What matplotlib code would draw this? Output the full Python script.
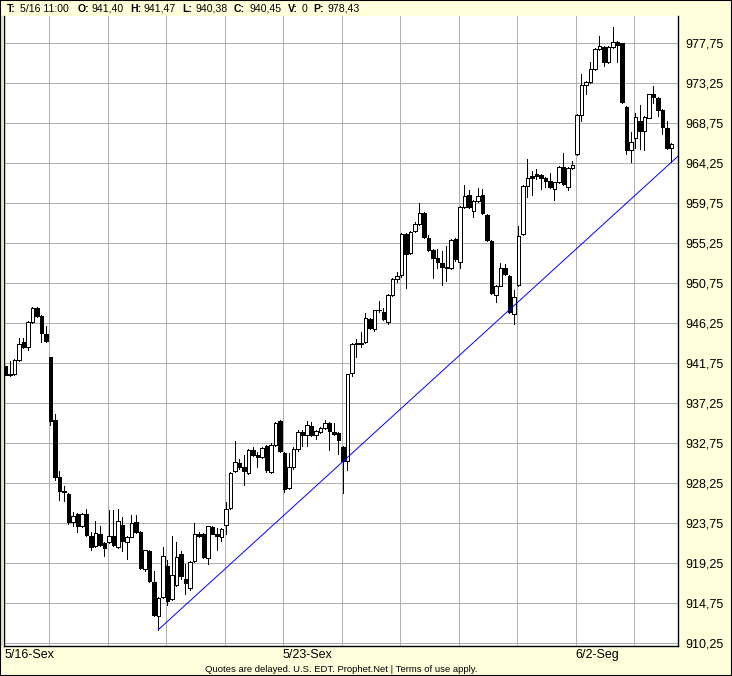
import matplotlib
matplotlib.use("Agg")
import matplotlib.pyplot as plt
from matplotlib.patches import Rectangle
from matplotlib.transforms import blended_transform_factory
import numpy as np

# ---------------- data ----------------
opens = [
    941.40, 940.45, 940.50, 942.10, 944.10, 943.60, 946.40, 948.00, 947.10, 945.00,
    942.50, 935.40, 929.00, 927.40, 927.10, 923.86, 924.80, 923.40, 924.85, 922.30,
    921.20, 922.60, 921.50, 921.60, 922.30, 921.05, 923.60, 921.65, 922.25, 923.90,
    922.80, 918.60, 920.60, 917.10, 913.35, 915.45, 919.00, 915.20, 916.80, 920.35,
    917.50, 916.50, 919.50, 922.60, 922.60, 919.80, 923.30, 922.50, 922.20, 923.60,
    925.50, 929.60, 930.55, 930.05, 929.40, 932.00, 931.40, 931.25, 932.40, 929.50,
    932.55, 935.25, 931.70, 927.70, 930.05, 932.10, 934.00, 933.70, 934.70, 933.70,
    934.00, 934.50, 935.00, 934.00, 933.90, 932.30, 930.80, 940.70, 944.00, 943.90,
    944.10, 946.70, 945.60, 947.70, 947.55, 946.40, 949.40, 951.20, 951.70, 956.30,
    954.20, 956.60, 957.40, 958.70, 955.80, 954.50, 953.60, 953.00, 952.60, 952.50,
    955.70, 953.10, 959.30, 960.70, 958.90, 960.00, 960.70, 958.40, 955.50, 949.40,
    950.50, 952.50, 951.60, 947.30, 950.60, 956.30, 961.70, 962.80, 963.00, 962.90,
    962.60, 962.30, 961.40, 962.10, 963.80, 961.60, 963.70, 965.25, 969.70, 973.10,
    973.40, 974.90, 977.10, 977.30, 975.60, 977.30, 977.95, 977.75, 970.60, 965.70,
    967.10, 969.05, 967.90, 969.40, 972.00, 971.60, 970.30, 968.20, 966.00,
]
highs = [
    941.47, 942.00, 942.20, 944.60, 944.60, 946.50, 948.10, 948.10, 947.20, 945.90,
    942.50, 936.00, 929.60, 928.00, 927.20, 925.00, 924.90, 924.90, 925.40, 922.80,
    924.00, 923.50, 921.60, 925.30, 925.30, 925.40, 924.50, 922.30, 924.70, 924.70,
    922.90, 920.80, 920.70, 918.40, 915.50, 921.10, 919.60, 922.30, 921.60, 920.60,
    919.20, 919.50, 923.80, 922.80, 922.70, 923.50, 923.50, 923.20, 923.20, 926.20,
    929.50, 933.00, 931.00, 931.40, 932.10, 932.30, 931.80, 932.30, 932.60, 932.80,
    935.20, 935.40, 931.80, 931.70, 932.30, 934.30, 934.20, 935.30, 935.10, 934.20,
    934.60, 935.40, 935.10, 935.00, 934.00, 932.40, 940.60, 944.00, 944.50, 945.30,
    947.40, 946.80, 947.80, 948.80, 948.00, 949.50, 951.30, 952.00, 956.40, 956.40,
    956.60, 957.60, 959.75, 958.80, 956.20, 954.60, 954.60, 954.40, 954.90, 955.70,
    955.80, 959.40, 961.80, 961.30, 960.10, 961.50, 961.40, 958.50, 955.60, 950.60,
    953.00, 952.90, 951.70, 950.00, 957.20, 961.80, 964.75, 963.40, 963.60, 963.00,
    962.70, 963.20, 962.20, 963.90, 965.40, 963.80, 964.50, 969.80, 974.30, 973.50,
    975.60, 977.20, 978.60, 977.40, 977.40, 979.60, 978.00, 977.80, 970.70, 967.80,
    969.90, 970.80, 969.60, 972.10, 972.90, 971.70, 970.40, 969.00, 966.50,
]
lows = [
    940.38, 940.35, 940.40, 942.00, 943.50, 943.30, 946.30, 947.00, 944.20, 944.20,
    934.80, 928.60, 926.40, 926.30, 923.70, 923.40, 922.80, 923.30, 922.35, 920.80,
    921.10, 921.20, 920.10, 921.50, 921.20, 921.00, 920.60, 919.70, 922.20, 922.70,
    918.60, 918.40, 917.20, 913.30, 911.80, 915.30, 914.60, 915.10, 916.70, 917.50,
    915.85, 916.20, 919.40, 922.20, 919.90, 919.20, 922.50, 920.80, 921.80, 922.50,
    925.40, 929.50, 929.90, 928.10, 929.30, 931.30, 930.10, 931.10, 929.50, 929.40,
    932.40, 931.80, 927.30, 927.60, 929.90, 931.90, 932.40, 932.40, 933.60, 933.20,
    933.90, 934.40, 932.00, 933.70, 931.60, 927.20, 929.80, 940.30, 942.50, 943.60,
    944.00, 945.60, 945.40, 947.50, 946.60, 946.20, 949.30, 950.90, 951.50, 950.20,
    954.00, 956.50, 957.30, 955.90, 954.40, 951.40, 952.50, 950.60, 951.00, 952.40,
    953.30, 952.50, 959.20, 959.20, 958.20, 959.90, 958.60, 955.50, 949.50, 948.70,
    950.40, 951.70, 947.40, 946.20, 950.50, 956.20, 960.50, 960.70, 962.50, 961.40,
    961.60, 961.50, 960.10, 962.00, 961.80, 961.20, 963.60, 965.20, 969.00, 972.00,
    973.30, 974.80, 977.00, 975.20, 975.50, 977.20, 975.60, 971.00, 965.30, 964.40,
    966.00, 965.90, 965.70, 969.30, 971.00, 969.60, 967.50, 965.90, 964.40,
]
closes = [
    940.45, 940.60, 942.10, 943.90, 943.60, 946.40, 948.00, 947.10, 945.20, 944.30,
    935.30, 929.00, 927.40, 927.30, 923.85, 924.60, 923.50, 924.80, 922.45, 921.05,
    922.70, 921.35, 921.00, 922.35, 921.35, 924.05, 921.80, 922.20, 923.75, 922.80,
    918.70, 920.70, 917.30, 913.40, 915.40, 920.06, 915.00, 917.96, 920.00, 917.77,
    917.00, 919.40, 922.50, 922.35, 920.00, 923.40, 922.60, 922.30, 923.10, 925.40,
    929.40, 930.60, 930.10, 929.60, 932.00, 931.40, 931.20, 932.20, 929.70, 932.55,
    935.05, 931.90, 927.60, 930.05, 932.10, 934.00, 933.70, 934.80, 933.70, 934.10,
    934.50, 935.00, 934.10, 933.80, 933.10, 930.80, 940.50, 943.90, 943.90, 944.00,
    946.80, 945.70, 947.70, 947.80, 946.70, 949.40, 951.20, 951.60, 956.30, 954.10,
    956.50, 957.40, 958.70, 956.00, 954.50, 953.60, 953.15, 952.60, 952.50, 955.60,
    953.50, 959.30, 960.60, 959.30, 960.00, 960.60, 958.70, 955.60, 949.70, 950.50,
    952.50, 951.80, 947.50, 949.20, 956.10, 961.70, 962.60, 962.60, 962.80, 962.60,
    962.30, 961.60, 962.10, 963.80, 961.90, 963.70, 964.10, 969.70, 973.10, 973.40,
    974.90, 977.10, 977.40, 975.70, 977.30, 977.95, 977.55, 971.10, 965.70, 966.70,
    969.50, 967.90, 969.50, 972.00, 971.70, 970.30, 968.30, 966.00, 966.40,
]

price_ticks = [910.25, 914.75, 919.25, 923.75, 928.25, 932.75, 937.25, 941.75,
               946.25, 950.75, 955.25, 959.75, 964.25, 968.75, 973.25, 977.75]
price_labels = ["910,25", "914,75", "919,25", "923,75", "928,25", "932,75", "937,25",
                "941,75", "946,25", "950,75", "955,25", "959,75", "964,25", "968,75",
                "973,25", "977,75"]
grid_bar_pos = [9.67, 22.67, 35.67, 48.67, 61.67, 74.67, 87.67, 100.67, 113.67, 126.67, 139.67]
date_labels = ["5/16-Sex", "5/23-Sex", "6/2-Seg"]
date_bar_pos = [-0.2, 61.67, 126.67]

trend_x = [34.0, 149.45]
trend_y = [911.8, 965.05]

header_keys = ["T:", "O:", "H:", "L:", "C:", "V:", "P:"]
header_vals = ["5/16 11:00", "941,40", "941,47", "940,38", "940,45", "0", "978,43"]
footer_text = "Quotes are delayed. U.S. EDT. Prophet.Net | Terms of use apply."

# ---------------- layout ----------------
W, H = 732, 676
BG = "#FFFFDC"
STRIP = "#E4E4B0"
GRID = "#B0B0B0"
LW1 = 0.5  # ~1 device pixel when not antialiased

fig = plt.figure(figsize=(W / 100, H / 100), dpi=100, facecolor=BG)
top_px, bot_px, left_px, right_px = 16, 646, 4, 678
ax = fig.add_axes([left_px / W, 1 - bot_px / H, (right_px - left_px) / W, (bot_px - top_px) / H])
ax.set_facecolor("white")

ppp = 4.5 / 40.0
ax.set_ylim(977.75 - (bot_px - 43.3) * ppp, 977.75 + (43.3 - top_px) * ppp)
ax.set_xlim((left_px - 5.5) / 4.5, (right_px - 5.5) / 4.5)

for yv in price_ticks:
    ax.axhline(yv, color=GRID, lw=LW1, zorder=0, antialiased=False)
for xv in grid_bar_pos:
    ax.axvline(xv, color=GRID, lw=LW1, zorder=0, antialiased=False)

o = np.array(opens); h = np.array(highs); l = np.array(lows); c = np.array(closes)
x = np.arange(len(o))
hi = np.maximum(h, np.maximum(o, c))
lo = np.minimum(l, np.minimum(o, c))
ax.vlines(x, lo, hi, color="black", lw=LW1, zorder=2, antialiased=False)
up = c >= o
body_lo = np.minimum(o, c)
body_h = np.abs(c - o)
ax.bar(x[up], body_h[up], bottom=body_lo[up], width=0.76, facecolor="white",
       edgecolor="black", linewidth=LW1, zorder=3, antialiased=False)
ax.bar(x[~up], body_h[~up], bottom=body_lo[~up], width=0.76, facecolor="black",
       edgecolor="black", linewidth=LW1, zorder=3, antialiased=False)

ax.plot(trend_x, trend_y, color="#0000FF", lw=0.7, zorder=4)

ax.set_xticks([])
ax.yaxis.tick_right()
ax.set_yticks(price_ticks)
ax.set_yticklabels(price_labels, fontfamily="Liberation Sans", fontsize=9)
ax.tick_params(axis="y", length=0, pad=5)
for side in ["left", "right", "bottom"]:
    ax.spines[side].set_color("black")
    ax.spines[side].set_linewidth(1.0)
ax.spines["top"].set_visible(False)

trans = blended_transform_factory(ax.transData, ax.transAxes)
for pos, lab in zip(date_bar_pos, date_labels):
    ax.text(pos, -3.0 / (bot_px - top_px), lab, transform=trans, ha="left", va="top",
            fontfamily="Liberation Sans", fontsize=9, color="black")

fig.patches.append(Rectangle((1 / W, 1 - bot_px / H), 2.5 / W, (bot_px - top_px) / H,
                             transform=fig.transFigure, facecolor=STRIP, edgecolor="none"))

key_x = [6.5, 78, 130.5, 182.5, 234, 287.5, 313]
val_x = [20, 91.5, 144, 195.5, 249, 301.5, 327]
hy = 1 - 8.5 / H
for kx, k in zip(key_x, header_keys):
    fig.text(kx / W, hy, k, ha="left", va="center", fontfamily="Liberation Sans",
             fontsize=7.6, fontweight="bold")
for vx, v in zip(val_x, header_vals):
    fig.text(vx / W, hy, v, ha="left", va="center", fontfamily="Liberation Sans",
             fontsize=7.6)

fig.text(341 / W, 1 - 669.5 / H, footer_text, ha="center", va="center",
         fontfamily="Liberation Sans", fontsize=6.8)

fig.patches.append(Rectangle((0, 0), 1, 1, transform=fig.transFigure, fill=False,
                             edgecolor="black", linewidth=1.5))

fig.savefig("out.png", dpi=100, facecolor=BG)
